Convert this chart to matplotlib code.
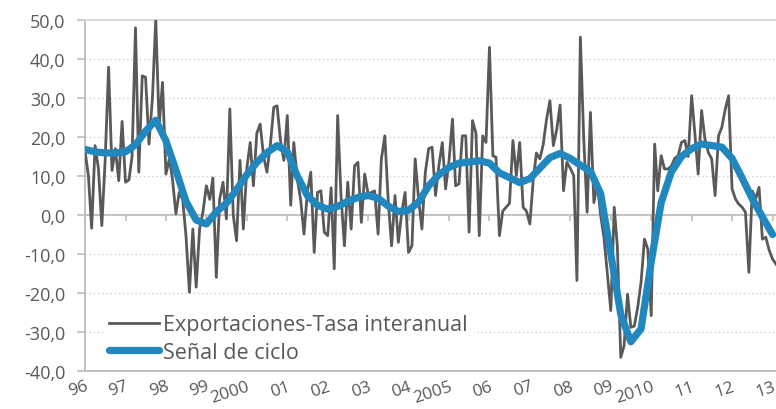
import matplotlib
matplotlib.use('Agg')
import matplotlib.pyplot as plt
import matplotlib.dates as mdates
import pandas as pd

# Exportaciones - tasa interanual (mensual, ene-1996 .. ene-2013)
exports = [
    16.5, 10, -3.4, 17.8, 12, -2.7, 14, 37.9, 11.4, 17, 8.8, 24,
    8.4, 9, 15, 48, 11, 35.7, 35.3, 18.2, 30, 50, 23, 34,
    10.5, 14.4, 9.2, 0.3, 5.8, 4, -5.3, -19.8, -3.6, -18.5, -3.6, 0.7,
    7.5, 4, 9.5, -16, 4, 8.4, -1, 27.2, 0, -6.6, 14, -3.6,
    11.8, 18.6, 7.5, 21, 23.3, 15, 11, 18, 27.6, 28, 19, 14,
    25.5, 2.5, 18.6, 9.2, 4.1, -4.9, 5.8, 11, -9.6, 5.8, 6.2, -4.4,
    -5.3, 7, -13.8, 25.5, 5, -7.9, 8.4, -3.6, 12.6, 13.5, -1.9, 10.5,
    5.4, 5.8, 6.2, -4.9, 14.4, 20.3, 4, -7.9, 5, -7, 0.7, 5.8,
    -9.6, -7.9, 14.4, 4, -3.6, 11, 17, 17.4, 5, 12.6, 18.6, 6.7,
    14, 24.6, 7.5, 8, 20.3, 20.3, -4.4, 24.2, 21, -5.3, 20.3, 18.6,
    43, 15.2, 14.8, -5.3, 1, 2, 3, 19.1, 10.1, 18.6, 2, 1,
    -2.3, 9.2, 15.9, 14.4, 18, 24.6, 29.3, 17.8, 22, 28.2, 6.2, 13.5,
    12, 10.1, -16.8, 45.6, 20, 0.7, 26.3, 3.2, 8, 0, -6, -15,
    -24.5, 2, -8, -36.5, -33.5, -20.3, -28.8, -28.5, -23.7, -17.3, -6.2, -8.7,
    -25.8, 18.2, 6.2, 15.2, 11.8, 11.8, 12.5, 14.5, 15.2, 18.6, 19.1, 15,
    30.6, 20.3, 10.5, 26.8, 19.5, 16, 14.4, 5, 20.3, 22.5, 27.2, 30.6,
    6.7, 4.1, 2.8, 2, 0.7, -14.7, 6.2, 4.1, 7.1, -6.2, -5.7, -9,
    -11.3, -12.6,
]

# Señal de ciclo (trimestral, ene-1996 .. ene-2013)
signal = [
    16.8, 16.2, 15.9, 15.9, 16.2, 18, 21.5, 24.3, 19, 11.5, 3.5, -1.3,
    -2.3, 0.8, 3, 6.5, 10.3, 13.5, 16, 17.8, 16.2, 10, 5, 2.5,
    1.5, 2.2, 3.5, 4.5, 5, 4.3, 2.3, 0.9, 1.2, 3.3, 7.5, 10.3,
    12.2, 13.3, 13.6, 13.9, 13.3, 10.8, 9.6, 8.3, 9.3, 12, 14.7, 15.8,
    14.5, 12.8, 11.2, 5.5, -10, -25.5, -32.5, -29.2, -12, 3.2, 11, 15,
    17, 18.2, 17.8, 17.4, 14.5, 9.5, 4.2, -0.5, -5,
]

year_labels = ['96', '97', '98', '99', '2000', '01', '02', '03', '04', '2005',
               '06', '07', '08', '09', '2010', '11', '12', '13']

exp_dates = mdates.date2num(pd.date_range('1996-01-01', periods=len(exports), freq='MS'))
sig_dates = mdates.date2num(pd.date_range('1996-01-01', periods=len(signal), freq='3MS'))
year_ticks = mdates.date2num(pd.date_range('1996-01-01', periods=len(year_labels), freq='YS'))

txt = '#595959'
axis_c = '#bfbfbf'
plt.rcParams['font.family'] = ['Open Sans', 'DejaVu Sans']

fig = plt.figure(figsize=(7.76, 4.10), dpi=100)
ax = fig.add_axes([85 / 776, 1 - 372 / 410, 1 - 85 / 776, (372 - 21) / 410])

ax.plot(exp_dates, exports, color='#595959', lw=2.0, label='Exportaciones-Tasa interanual', zorder=3)
ax.plot(sig_dates, signal, color='#2187bf', lw=5.2, solid_joinstyle='round',
        solid_capstyle='round', label='Señal de ciclo', zorder=4)

ax.set_xlim(mdates.date2num(pd.Timestamp('1996-01-01')), mdates.date2num(pd.Timestamp('2013-02-01')))
ax.set_ylim(-40, 50)
ax.set_yticks(range(-40, 51, 10))
ax.set_yticklabels([f'{v:.1f}'.replace('.', ',') for v in range(-40, 51, 10)])
ax.yaxis.grid(True, linestyle=(0, (1, 2)), color='#d0d0d0', lw=1)
ax.set_axisbelow(True)

for s in ['left', 'bottom', 'top']:
    ax.spines[s].set_color(axis_c)
    ax.spines[s].set_linewidth(1.4)
ax.spines['top'].set_color('#d9d9d9')
ax.spines['right'].set_visible(False)

ax.tick_params(axis='y', colors=axis_c, labelcolor=txt, labelsize=13, length=6, width=1.2, pad=8)
ax.set_xticks(year_ticks)
ax.set_xticklabels(year_labels, rotation=18, ha='right', va='top', rotation_mode='anchor')
ax.tick_params(axis='x', length=0, labelcolor=txt, labelsize=12.5, pad=5)

# horizontal axis crossing at 0 with tick marks
zero = ax.secondary_xaxis(40 / 90)
zero.set_xticks(year_ticks)
zero.set_xticklabels([])
zero.spines['bottom'].set_color(axis_c)
zero.spines['bottom'].set_linewidth(1.4)
zero.tick_params(axis='x', direction='out', length=4, width=1.2, colors=axis_c)

leg = ax.legend(loc='lower left', bbox_to_anchor=(0.01, -0.025), frameon=True, fontsize=15.5,
                handlelength=2.3, handletextpad=0.2, labelspacing=0.3, borderpad=0.3)
leg.get_frame().set_facecolor('white')
leg.get_frame().set_edgecolor('none')
leg.get_frame().set_alpha(1)
for t in leg.get_texts():
    t.set_color(txt)

fig.savefig('out.png', dpi=100)
